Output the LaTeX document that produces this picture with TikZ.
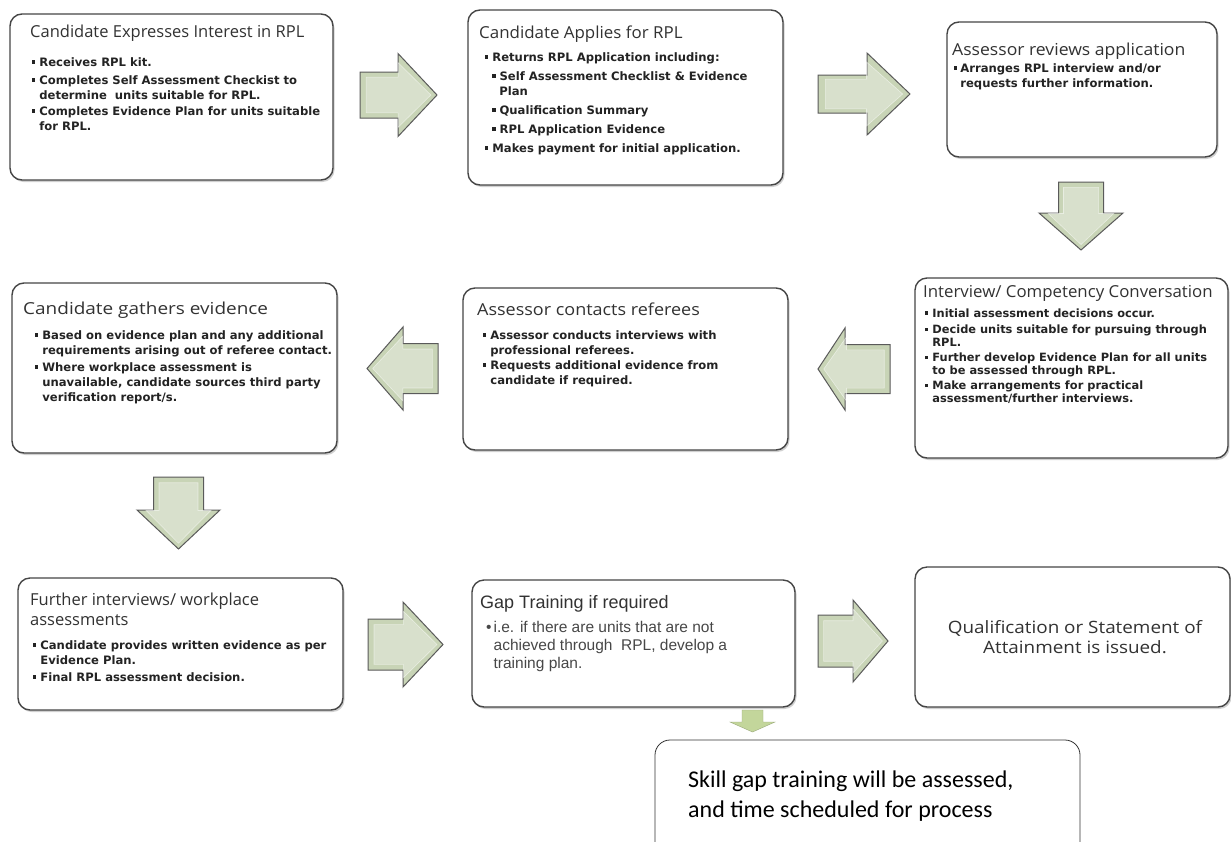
\documentclass[tikz,border=0pt]{standalone}
\usepackage{graphicx}
\usepackage{fontspec}
\setmainfont{Liberation Sans}
\newfontfamily\titlefont{Open Sans}
\newfontfamily\bulfont{DejaVu Sans}
\newfontfamily\calfont{Carlito}
\usetikzlibrary{shadows}
\definecolor{arrgreen}{RGB}{200,212,182}
\definecolor{arrline}{RGB}{90,90,90}
\definecolor{smallgreen}{RGB}{195,214,155}
\definecolor{boxline}{RGB}{70,70,70}
\definecolor{titlecol}{RGB}{50,50,50}
\definecolor{bulcol}{RGB}{35,35,35}
\newcommand\bsq{\raisebox{2.5pt}{\rule{3.2pt}{3.2pt}}}
\newcommand\blockarrow[9]{%
\begin{scope}[shift={(#2,#3)},rotate=#4]
 \coordinate (#1) at (0,0);
 \path[#9] ({-#5/2},{-#7}) -- ({#5/2-#6},{-#7}) -- ({#5/2-#6},{-#8}) -- ({#5/2},0) -- ({#5/2-#6},{#8}) -- ({#5/2-#6},{#7}) -- ({-#5/2},{#7}) -- cycle;
 \begin{scope}[xscale=0.84, yscale=0.78]
 \path[#9 inner] ({-#5/2},{-#7}) -- ({#5/2-#6},{-#7}) -- ({#5/2-#6},{-#8}) -- ({#5/2},0) -- ({#5/2-#6},{#8}) -- ({#5/2-#6},{#7}) -- ({-#5/2},{#7}) -- cycle;
 \end{scope}
\end{scope}}
\tikzset{
 stepbox/.style={draw=boxline, line width=1.4pt, rounded corners=12pt, fill=white,
   drop shadow={shadow xshift=1.5pt, shadow yshift=-2pt, opacity=0.3, fill=black!60}},
 ttl/.style={anchor=base west, inner sep=0pt, font=\titlefont\fontsize{16.5}{20}\selectfont, text=titlecol, align=left},
 bul/.style={anchor=base west, inner sep=0pt, font=\bulfont\bfseries\fontsize{11.6}{15}\selectfont, text=bulcol},
 barrow/.style={fill=arrgreen, draw=arrline, line width=1pt, line join=miter},
 barrow inner/.style={fill=white, fill opacity=0.3, draw=white, draw opacity=0.5, line width=0.6pt},
 sarrow/.style={fill=smallgreen, draw=smallgreen!80!black, line width=0.4pt},
 sarrow inner/.style={},
}
\begin{document}
\begin{tikzpicture}[x=1pt,y=-1pt]
\useasboundingbox (0,0) rectangle (1231,841);
\fill[white] (0,0) rectangle (1231,841);

% boxes
\node[stepbox, minimum width=323, minimum height=166] (b1) at (171.5,97) {};
\node[stepbox, minimum width=315, minimum height=175] (b2) at (625.5,97.5) {};
\node[stepbox, minimum width=270, minimum height=135] (b3) at (1082,89.5) {};
\node[stepbox, minimum width=325, minimum height=170] (b4) at (174.5,368) {};
\node[stepbox, minimum width=325, minimum height=162] (b5) at (625.5,369) {};
\node[stepbox, minimum width=313, minimum height=180] (b6) at (1071.5,368) {};
\node[stepbox, minimum width=325, minimum height=132] (b7) at (180.5,644) {};
\node[stepbox, minimum width=323, minimum height=127] (b8) at (633.5,643.5) {};
\node[stepbox, minimum width=315, minimum height=140] (b9) at (1072.5,637) {};
\begin{scope}
\clip (0,0) rectangle (1231,841);
\node[draw=black!80, line width=0.8pt, rounded corners=15pt, fill=white, minimum width=425, minimum height=140] (b10) at (867.5,810) {};
\end{scope}

% arrows
\blockarrow{a1}{398.5}{95}{0}{77}{39}{23}{41.5}{barrow}
\blockarrow{a2}{864}{94}{0}{92}{43}{19}{41}{barrow}
\blockarrow{a3}{1081}{216}{-90}{68}{37}{22.5}{42}{barrow}
\blockarrow{a4}{854}{369}{180}{72}{27}{24.5}{41}{barrow}
\blockarrow{a5}{402.5}{368.5}{180}{71}{36}{25}{41.5}{barrow}
\blockarrow{a6}{178.5}{513}{-90}{72}{39}{25}{41.5}{barrow}
\blockarrow{a7}{405.5}{644.5}{0}{75}{40}{25.5}{42.5}{barrow}
\blockarrow{a8}{853}{641}{0}{70}{35}{26}{41}{barrow}
\blockarrow{a9}{752.5}{721}{-90}{22}{10}{10.5}{22.5}{sarrow}

% box 1
\node[ttl] (t1) at (30,37) {Candidate Expresses Interest in RPL};
\node[bul] (l1) at (32,66) {\begin{tabular}[t]{@{}l@{\hspace{4pt}}l@{}}
\bsq & Receives RPL kit.\\[3pt]
\bsq & Completes Self Assessment Checkist to\\
 & determine\ \ units suitable for RPL.\\[1pt]
\bsq & Completes Evidence Plan for units suitable\\
 & for RPL.\end{tabular}};

% box 2
\node[ttl] (t2) at (479,38) {\scalebox{1.025}[1]{Candidate Applies for RPL}};
\node[bul] (l2) at (485,61) {\begin{tabular}[t]{@{}l@{\hspace{4pt}}l@{}}
\bsq & Returns RPL Application including:\\[4pt]
 & \bsq\hspace{4pt}Self Assessment Checklist \& Evidence\\
 & \hspace{7pt}Plan\\[4pt]
 & \bsq\hspace{4pt}Qualification Summary\\[4pt]
 & \bsq\hspace{4pt}RPL Application Evidence\\[4pt]
\bsq & Makes payment for initial application.\end{tabular}};

% box 3
\node[ttl] (t3) at (952,55) {\scalebox{1.066}[1]{Assessor reviews application}};
\node[bul] (l3) at (954,72) {\begin{tabular}[t]{@{}l@{\hspace{3pt}}l@{}}
\bsq & Arranges RPL interview and/or\\
 & requests further information.\end{tabular}};

% box 4
\node[ttl] (t4) at (23,314) {\scalebox{1.15}[1]{Candidate gathers evidence}};
\node[bul] (l4) at (35,339) {\begin{tabular}[t]{@{}l@{\hspace{4pt}}l@{}}
\bsq & Based on evidence plan and any additional\\
 & requirements arising out of referee contact.\\[2pt]
\bsq & Where workplace assessment is\\
 & unavailable, candidate sources third party\\
 & verification report/s.\end{tabular}};

% box 5
\node[ttl] (t5) at (477,315) {\scalebox{1.09}[1]{Assessor contacts referees}};
\node[bul] (l5) at (483,339) {\begin{tabular}[t]{@{}l@{\hspace{4pt}}l@{}}
\bsq & Assessor conducts interviews with\\
 & professional referees.\\
\bsq & Requests additional evidence from\\
 & candidate if required.\end{tabular}};

% box 6
\node[ttl] (t6) at (923,297) {\scalebox{1.02}[1]{Interview/ Competency Conversation}};
\node[bul, font=\bulfont\bfseries\fontsize{11.4}{12.5}\selectfont] (l6) at (925,317) {\begin{tabular}[t]{@{}l@{\hspace{4pt}}l@{}}
\bsq & Initial assessment decisions occur.\\[4pt]
\bsq & Decide units suitable for pursuing through\\
 & RPL.\\[3pt]
\bsq & Further develop Evidence Plan for all units\\
 & to be assessed through RPL.\\[3pt]
\bsq & Make arrangements for practical\\
 & assessment/further interviews.\end{tabular}};

% box 7
\node[ttl] (t7) at (30,625) {Further interviews/ workplace\\assessments};
\node[bul] (l7) at (33,649) {\begin{tabular}[t]{@{}l@{\hspace{4pt}}l@{}}
\bsq & Candidate provides written evidence as per\\
 & Evidence Plan.\\[2pt]
\bsq & Final RPL assessment decision.\end{tabular}};

% box 8
\node[ttl, font=\fontsize{18}{20}\selectfont] (t8) at (480,608) {Gap Training if required};
\node[anchor=base west, inner sep=0pt, font=\fontsize{15.5}{18}\selectfont, text=black!72] (l8) at (486,632) {\begin{tabular}[t]{@{}l@{\hspace{2pt}}l@{}}
\textbullet & i.e. if there are units that are not\\
 & achieved through\ \ RPL, develop a\\
 & training plan.\end{tabular}};

% box 9
\node[align=center, inner sep=0pt, font=\titlefont\fontsize{17}{20}\selectfont, text=titlecol] (t9) at (1075,637) {\scalebox{1.11}[1]{Qualification or Statement of}\\\scalebox{1.11}[1]{Attainment is issued.}};

% box 10
\node[anchor=base west, inner sep=0pt, align=left, font=\calfont\fontsize{24}{30}\selectfont, text=black] (t10) at (688,817) {Skill gap training will be assessed,\\and time scheduled for process};
\end{tikzpicture}
\end{document}
